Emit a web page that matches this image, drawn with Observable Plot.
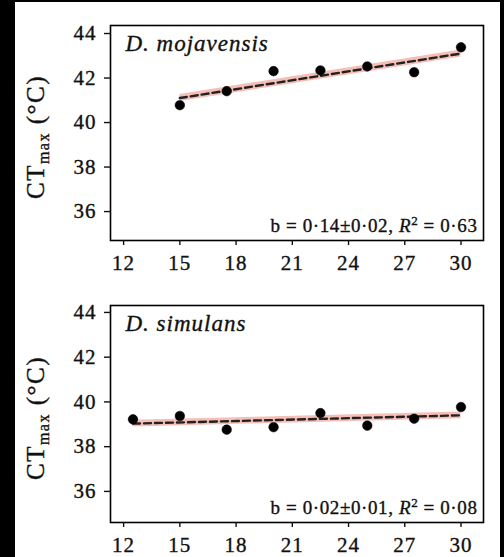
<!DOCTYPE html>
<html><head><meta charset="utf-8">
<script src="https://cdn.jsdelivr.net/npm/d3@7"></script>
<script src="https://cdn.jsdelivr.net/npm/@observablehq/plot@0.6"></script>
<style>
html,body{margin:0;padding:0;background:#000;width:504px;height:557px;overflow:hidden;}
#page{position:absolute;left:15px;top:2px;width:485px;height:555px;background:#fff;}
#page svg{display:block;}
#page svg, #page svg text, #page svg tspan{font-family:"Liberation Serif","Times New Roman",Times,serif !important;}
#page svg text{stroke:#111;stroke-width:0.35px;}
svg [aria-label="x-axis tick label"] text, svg [aria-label="y-axis tick label"] text{letter-spacing:1px;}
.title text{letter-spacing:1px;}
.stat text{letter-spacing:0.6px;}
.ylab text{letter-spacing:1.5px;}
</style></head><body><div id="page"></div>
<script>
// ---- data ----
const xTicks = [12, 15, 18, 21, 24, 27, 30];
const yTicks = [36, 38, 40, 42, 44];

const mojSpecies = "D. mojavensis";
const mojTemps = [15, 17.5, 20, 22.5, 25, 27.5, 30];
const mojCT = [40.78, 41.41, 42.31, 42.34, 42.52, 42.26, 43.38];
const mojFitX = [15, 30];
const mojFitY = [41.1, 43.1];
const mojFitCI = [0.16, 0.16];
const mojStat = ["b = 0·14±0·02, ", "R", "2", " = 0·63"];

const simSpecies = "D. simulans";
const simTemps = [12.5, 15, 17.5, 20, 22.5, 25, 27.5, 30];
const simCT = [39.22, 39.37, 38.76, 38.87, 39.50, 38.94, 39.25, 39.77];
const simFitX = [12.5, 30];
const simFitY = [39.03, 39.40];
const simFitCI = [0.15, 0.15];
const simStat = ["b = 0·02±0·01, ", "R", "2", " = 0·08"];

const yLabel = ["CT", "max", " (°C)"];

function panel({species, temps, ct, fitX, fitY, fitCI, stat, height, marginTop, marginBottom, yDomain}) {
  const pts = temps.map((t, i) => ({t, v: ct[i]}));
  const fit = fitX.map((t, i) => ({t, v: fitY[i], lo: fitY[i] - fitCI[i], hi: fitY[i] + fitCI[i]}));
  const svg = Plot.plot({
    width: 485, height,
    marginLeft: 95, marginRight: 17, marginTop, marginBottom,
    style: {fontFamily: "Liberation Serif", fontSize: "21px", color: "#111", background: "white", overflow: "visible"},
    x: {domain: [11.3, 31.2]},
    y: {domain: yDomain},
    marks: [
      Plot.areaY(fit, {x: "t", y1: "lo", y2: "hi", fill: "#f3aea4", fillOpacity: 0.8}),
      Plot.line(fit, {x: "t", y: "v", stroke: "#222", strokeWidth: 2.4, strokeDasharray: "7,4"}),
      Plot.dot(pts, {x: "t", y: "v", r: 4.8, fill: "#000", stroke: "#000", strokeWidth: 0.5}),
      Plot.frame({stroke: "#000", strokeWidth: 1.6}),
      Plot.axisX({ticks: xTicks, tickSize: 5, tickPadding: 10, label: null, fontSize: 21, strokeWidth: 1.4}),
      Plot.axisY({ticks: yTicks, tickSize: 6, tickPadding: 8, label: null, fontSize: 21, strokeWidth: 1.4}),
      Plot.text([species], {frameAnchor: "top-left", text: d => d, textAnchor: "start", lineAnchor: "top", dx: 15, dy: 9, fontSize: 23, fontStyle: "italic", fill: "#111", className: "title"}),
      Plot.text([stat.join("")], {frameAnchor: "bottom-right", text: d => d, textAnchor: "end", lineAnchor: "bottom", dx: -6, dy: -9, fontSize: 19, fill: "#111", className: "stat"}),
      Plot.text([yLabel.join("")], {frameAnchor: "left", text: d => d, textAnchor: "middle", lineAnchor: "middle", rotate: -90, dx: -75, dy: 4, fontSize: 25, fill: "#111", className: "ylab"})
    ]
  });
  const ns = "http://www.w3.org/2000/svg";
  const st = svg.querySelector(".stat text");
  if (st) {
    st.textContent = "";
    const a = document.createElementNS(ns, "tspan"); a.textContent = stat[0];
    const b = document.createElementNS(ns, "tspan"); b.textContent = stat[1]; b.setAttribute("font-style", "italic");
    const c = document.createElementNS(ns, "tspan"); c.textContent = stat[2]; c.setAttribute("font-size", "13"); c.setAttribute("dy", "-7");
    const d = document.createElementNS(ns, "tspan"); d.textContent = stat[3]; d.setAttribute("dy", "7");
    st.append(a, b, c, d);
  }
  const yl = svg.querySelector(".ylab text");
  if (yl) {
    yl.textContent = "";
    const a = document.createElementNS(ns, "tspan"); a.textContent = yLabel[0];
    const b = document.createElementNS(ns, "tspan"); b.textContent = yLabel[1]; b.setAttribute("font-size", "16"); b.setAttribute("dy", "5");
    const c = document.createElementNS(ns, "tspan"); c.textContent = yLabel[2]; c.setAttribute("dy", "-5");
    yl.append(a, b, c);
  }
  return svg;
}

const page = document.getElementById("page");
page.append(panel({species: mojSpecies, temps: mojTemps, ct: mojCT, fitX: mojFitX, fitY: mojFitY, fitCI: mojFitCI, stat: mojStat,
  height: 277, marginTop: 23, marginBottom: 39, yDomain: [34.7, 44.36]}));
page.append(panel({species: simSpecies, temps: simTemps, ct: simCT, fitX: simFitX, fitY: simFitY, fitCI: simFitCI, stat: simStat,
  height: 278, marginTop: 26, marginBottom: 35, yDomain: [34.61, 44.31]}));
</script></body></html>
